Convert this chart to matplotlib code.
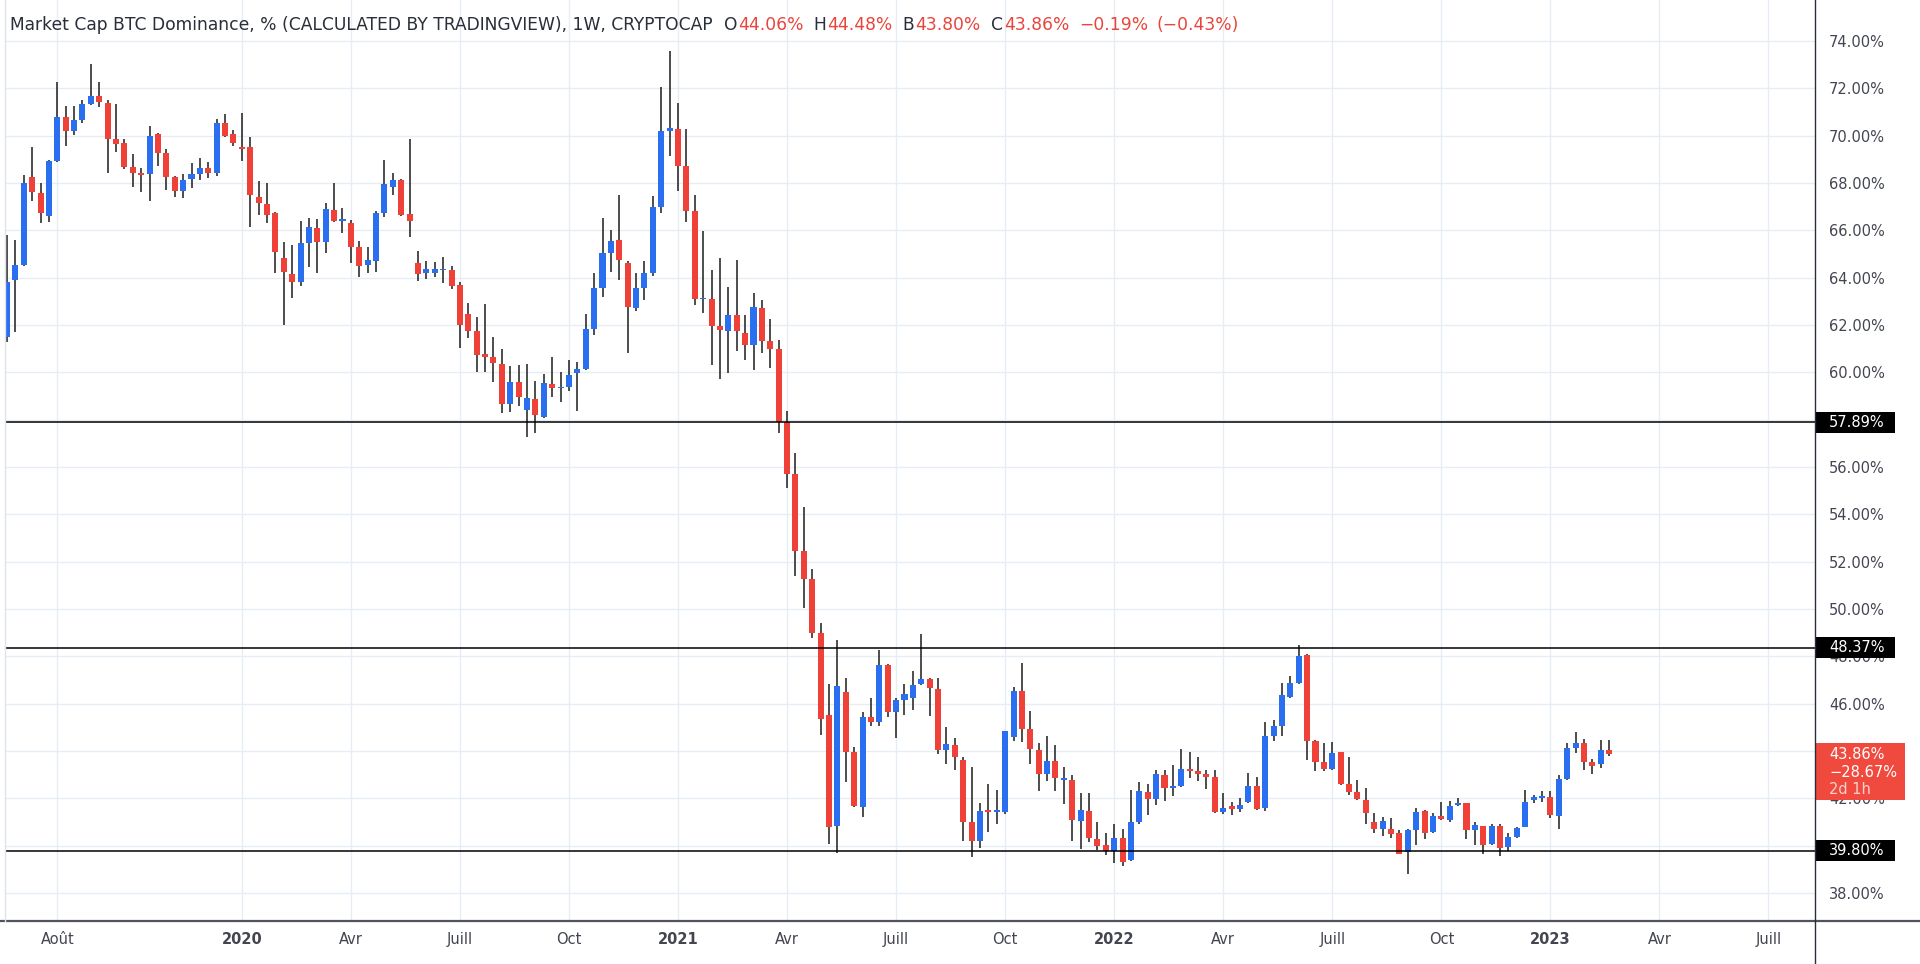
import math

import matplotlib

matplotlib.use("Agg")  # headless
import matplotlib.pyplot as plt
import numpy as np
import pandas as pd
from matplotlib import transforms
from matplotlib.lines import Line2D
from matplotlib.patches import Rectangle

W, H = 1920, 964

# --- weekly candles, BTC dominance (%) -----------------------------------
first_bar = "2019-06-24"

opens = [
    61.51, 63.90, 64.54, 68.24, 67.56, 66.61, 68.94, 70.80, 70.21, 70.66,
    71.34, 71.68, 71.37, 69.86, 69.68, 68.69, 68.44, 68.38, 70.07, 69.25,
    68.27, 67.68, 68.17, 68.37, 68.65, 68.44, 70.55, 70.07, 69.50, 69.51,
    67.39, 67.11, 66.75, 64.82, 64.14, 63.83, 65.48, 66.08, 65.52, 66.86,
    66.41, 66.32, 65.28, 64.54, 64.72, 66.75, 67.82, 68.13, 66.69, 64.63,
    64.21, 64.21, 64.31, 64.32, 63.69, 62.45, 61.76, 60.76, 60.66, 60.35,
    58.66, 59.61, 58.41, 58.86, 58.13, 59.51, 59.33, 59.37, 59.98, 60.14,
    61.82, 63.55, 65.06, 65.60, 64.63, 62.74, 63.55, 64.21, 67.00, 70.21,
    70.27, 68.72, 66.83, 63.08, 63.08, 61.95, 61.74, 62.42, 61.67, 61.14,
    62.74, 61.33, 61.00, 57.89, 55.71, 52.44, 51.26, 49.00, 45.52, 40.84,
    46.51, 43.96, 41.62, 45.44, 45.22, 47.64, 45.66, 46.15, 46.26, 46.85,
    47.03, 46.63, 44.03, 44.25, 43.62, 40.99, 40.19, 41.45, 41.43, 41.41,
    44.58, 46.53, 44.95, 44.06, 43.02, 43.59, 42.80, 42.78, 41.04, 41.47,
    40.28, 40.02, 39.77, 40.31, 39.39, 41.02, 42.26, 41.98, 42.99, 42.43,
    42.54, 43.25, 43.14, 43.02, 42.92, 41.41, 41.67, 41.55, 41.86, 42.54,
    41.58, 44.62, 45.05, 46.30, 46.89, 48.06, 44.44, 43.53, 43.24, 43.96,
    42.60, 42.26, 41.93, 40.99, 40.73, 40.69, 40.52, 39.74, 40.66, 41.47,
    40.59, 41.27, 41.09, 41.72, 41.79, 40.66, 40.84, 40.09, 40.84, 39.95,
    40.38, 40.81, 41.94, 42.01, 42.05, 41.24, 42.81, 44.12, 44.36, 43.53,
    43.45, 44.06,
]
highs = [
    65.80, 65.59, 68.34, 69.51, 67.99, 68.96, 72.28, 71.27, 71.27, 71.51,
    73.03, 72.28, 71.51, 71.34, 69.85, 69.21, 68.62, 70.41, 70.10, 69.42,
    68.30, 68.38, 68.86, 69.04, 68.90, 70.69, 70.92, 70.24, 70.94, 69.96,
    68.10, 68.01, 66.79, 65.52, 65.38, 66.41, 66.51, 66.48, 67.17, 68.01,
    66.93, 66.44, 65.55, 65.31, 66.83, 68.97, 68.44, 68.16, 69.85, 65.14,
    64.70, 64.66, 64.89, 64.48, 63.83, 62.94, 62.35, 62.89, 61.48, 61.00,
    60.28, 60.31, 60.34, 59.65, 59.94, 60.66, 60.03, 60.52, 60.45, 62.47,
    64.19, 66.51, 66.02, 67.49, 64.72, 64.19, 64.72, 67.45, 72.04, 73.59,
    71.37, 70.27, 67.49, 65.99, 64.33, 64.85, 63.60, 64.75, 62.42, 63.34,
    63.06, 62.24, 61.36, 58.38, 56.60, 54.30, 51.70, 49.42, 46.85, 48.71,
    47.07, 44.18, 45.66, 46.26, 48.26, 47.67, 46.26, 46.85, 47.40, 48.93,
    47.07, 47.10, 45.03, 44.55, 43.73, 43.31, 41.79, 42.60, 42.36, 44.86,
    46.70, 47.71, 45.71, 44.34, 44.62, 44.24, 43.31, 42.97, 42.22, 42.22,
    40.99, 40.52, 40.94, 40.73, 42.36, 42.68, 42.60, 43.21, 43.21, 43.42,
    44.08, 43.98, 43.77, 43.21, 43.21, 42.22, 41.86, 42.00, 43.07, 42.92,
    45.23, 45.33, 46.89, 47.17, 48.48, 48.10, 44.46, 44.34, 44.38, 43.98,
    43.73, 42.78, 42.46, 41.37, 41.23, 41.18, 40.66, 40.69, 41.58, 41.50,
    41.37, 41.86, 41.89, 42.03, 41.80, 40.99, 40.85, 40.90, 40.90, 40.56,
    40.80, 42.36, 42.15, 42.32, 42.32, 43.00, 44.34, 44.80, 44.52, 43.67,
    44.48, 44.48,
]
lows = [
    61.30, 61.72, 64.50, 67.25, 66.30, 66.37, 68.90, 69.56, 70.03, 70.52,
    71.30, 71.23, 68.41, 69.32, 68.60, 67.85, 67.63, 67.25, 68.72, 67.70,
    67.42, 67.35, 67.80, 68.13, 68.20, 68.30, 69.93, 69.56, 68.94, 66.13,
    66.65, 66.30, 64.18, 62.00, 63.13, 63.65, 64.46, 64.18, 65.03, 66.37,
    65.90, 64.61, 64.04, 64.18, 64.25, 66.55, 67.49, 66.60, 65.73, 63.87,
    63.93, 64.03, 63.79, 63.51, 61.02, 61.44, 60.03, 60.03, 59.61, 58.27,
    58.34, 58.59, 57.26, 57.43, 58.06, 58.97, 58.76, 59.23, 58.38, 60.10,
    61.58, 63.20, 64.26, 63.90, 60.83, 62.60, 63.06, 64.07, 66.75, 69.14,
    67.68, 66.37, 62.85, 62.49, 60.30, 59.74, 59.98, 60.92, 60.52, 60.09,
    60.80, 60.17, 57.43, 55.12, 51.38, 50.04, 48.78, 44.67, 40.07, 39.69,
    42.70, 41.65, 41.21, 45.07, 45.07, 45.44, 44.55, 45.51, 45.74, 46.80,
    45.47, 43.88, 43.44, 43.19, 40.22, 39.53, 39.91, 40.59, 40.94, 41.33,
    44.44, 44.38, 43.45, 42.32, 42.74, 42.32, 41.75, 40.19, 39.88, 40.14,
    39.81, 39.60, 39.29, 39.15, 39.35, 40.94, 41.30, 41.72, 41.89, 42.12,
    42.50, 42.85, 42.74, 42.40, 41.38, 41.36, 41.30, 41.41, 41.80, 41.51,
    41.47, 44.41, 44.62, 46.25, 46.85, 43.63, 43.16, 43.14, 43.21, 42.57,
    42.15, 41.95, 40.94, 40.56, 40.42, 40.31, 39.64, 38.82, 40.02, 40.28,
    40.56, 41.10, 40.99, 41.69, 40.28, 40.02, 39.67, 40.05, 39.57, 39.77,
    40.33, 40.80, 41.80, 41.87, 41.19, 40.72, 42.80, 43.91, 43.21, 43.03,
    43.28, 43.80,
]
closes = [
    63.83, 64.54, 67.99, 67.63, 66.75, 68.94, 70.77, 70.21, 70.66, 71.34,
    71.68, 71.41, 69.85, 69.65, 68.69, 68.44, 68.35, 69.99, 69.25, 68.27,
    67.68, 68.13, 68.37, 68.62, 68.44, 70.55, 69.99, 69.70, 69.45, 67.48,
    67.17, 66.65, 65.10, 64.23, 63.83, 65.48, 66.13, 65.52, 66.89, 66.41,
    66.44, 65.31, 64.49, 64.75, 66.75, 67.96, 68.13, 66.65, 66.41, 64.17,
    64.35, 64.35, 64.33, 63.65, 62.00, 61.76, 60.73, 60.66, 60.38, 58.66,
    59.61, 58.94, 58.90, 58.20, 59.54, 59.33, 59.38, 59.90, 60.13, 61.82,
    63.55, 65.06, 65.56, 64.75, 62.77, 63.55, 64.21, 67.00, 70.21, 70.31,
    68.72, 66.82, 63.09, 63.14, 61.95, 61.77, 62.42, 61.74, 61.14, 62.77,
    61.33, 61.00, 57.92, 55.71, 52.44, 51.26, 49.00, 45.37, 40.81, 46.75,
    43.96, 41.70, 45.44, 45.22, 47.64, 45.66, 46.15, 46.41, 46.81, 47.03,
    46.66, 44.03, 44.28, 43.73, 40.99, 40.19, 41.47, 41.43, 41.45, 44.83,
    46.53, 44.93, 44.10, 43.02, 43.59, 42.85, 42.82, 41.09, 41.51, 40.31,
    39.99, 39.77, 40.31, 39.32, 41.02, 42.32, 41.98, 43.02, 42.46, 42.54,
    43.25, 43.14, 43.02, 42.92, 41.41, 41.61, 41.55, 41.72, 42.54, 41.55,
    44.62, 45.05, 46.36, 46.89, 48.02, 44.44, 43.53, 43.24, 43.91, 42.60,
    42.26, 41.98, 41.37, 40.70, 41.04, 40.48, 39.67, 40.66, 41.44, 40.52,
    41.27, 41.13, 41.69, 41.79, 40.66, 40.87, 40.02, 40.84, 39.91, 40.38,
    40.76, 41.87, 42.04, 42.11, 41.28, 42.81, 44.12, 44.36, 43.53, 43.39,
    44.03, 43.86,
]

levels = [57.89, 48.37, 39.80]
tick_dates = ["2019-08-01", "2020-01-01", "2020-04-01", "2020-07-01", "2020-10-01",
              "2021-01-01", "2021-04-01", "2021-07-01", "2021-10-01", "2022-01-01",
              "2022-04-01", "2022-07-01", "2022-10-01", "2023-01-01", "2023-04-01",
              "2023-07-01"]
tick_labels = ["Août", "2020", "Avr", "Juill", "Oct", "2021", "Avr", "Juill", "Oct",
               "2022", "Avr", "Juill", "Oct", "2023", "Avr", "Juill"]
y_ticks = list(range(38, 75, 2))

UP, DOWN = "#2a6ff0", "#ef4137"
GRID = "#e6edf5"
TEXT = "#2a2e39"
AXIS_TEXT = "#434651"


def main():
    fig = plt.figure(figsize=(W / 100, H / 100), dpi=100)
    fig.patch.set_facecolor("white")
    ax = fig.add_axes([5 / W, 43 / H, (1815 - 5) / W, 921 / H])

    o = np.array(opens)
    c = np.array(closes)
    hi = np.maximum(np.array(highs), np.maximum(o, c))
    lo = np.minimum(np.array(lows), np.minimum(o, c))
    x = np.arange(len(o))
    colors = np.where(c >= o, UP, DOWN)

    # wicks, then bodies
    ax.vlines(x, lo, hi, color="#1c1c1c", lw=1.1, zorder=3)
    body_lo = np.minimum(o, c)
    body_h = np.maximum(np.abs(c - o), 0.07)
    ax.bar(x, body_h, bottom=body_lo, width=0.72, color=colors, lw=0, zorder=4)

    for lvl in levels:
        ax.axhline(lvl, color="black", lw=1.1, zorder=5)

    # time axis: one gridline at the first bar of each labelled month
    start = pd.Timestamp(first_bar)
    tick_idx = [math.ceil((pd.Timestamp(d) - start).days / 7) for d in tick_dates]
    ax.set_xticks(tick_idx)
    ax.set_xticklabels(tick_labels)
    for lab in ax.get_xticklabels():
        if lab.get_text().isdigit():
            lab.set_fontweight("bold")
            lab.set_color("#131722")
    ax.tick_params(axis="x", length=0, pad=8, labelsize=10.5, labelcolor=AXIS_TEXT)

    ax.yaxis.tick_right()
    ax.set_yticks(y_ticks)
    ax.set_yticklabels([f"{v:.2f}%" for v in y_ticks])
    ax.tick_params(axis="y", length=0, pad=10, labelsize=10.5, labelcolor=AXIS_TEXT)

    ax.grid(True, color=GRID, lw=1.0)
    ax.set_axisbelow(True)
    for s in ax.spines.values():
        s.set_visible(False)

    # level tags and last-price tag on the price scale (drawn over tick labels)
    blend = transforms.blended_transform_factory(fig.transFigure, ax.transData)
    for lvl in levels:
        ax.add_patch(Rectangle((1816 / W, lvl - 0.43), 79 / W, 0.87, transform=blend,
                               facecolor="black", lw=0, clip_on=False, zorder=6))
        ax.text(1829 / W, lvl, f"{lvl:.2f}%", transform=blend, color="white",
                fontsize=10.5, va="center", ha="left", zorder=7, clip_on=False)
    last = closes[-1]
    ax.add_patch(Rectangle((1816 / W, 41.93), 89 / W, 2.42, transform=blend,
                           facecolor="#f04a3e", lw=0, clip_on=False, zorder=6))
    tag_lines = [(f"{last:.2f}%", 43.86, 1.0), ("\u221228.67%", 43.09, 1.0),
                 ("2d 1h", 42.36, 0.75)]
    for txt, yy, alpha in tag_lines:
        ax.text(1829 / W, yy, txt, transform=blend, color="white", alpha=alpha,
                fontsize=10.5, va="center", ha="left", zorder=7, clip_on=False)

    ax.set_xlim((5 - 6.97) / 8.388, (1815 - 6.97) / 8.388)
    ax.set_ylim(74 - 880 / 23.67, 74 + 41 / 23.67)

    # frame lines of the chart pane
    fig.add_artist(Line2D([0, 1], [43 / H, 43 / H], color="#50535e", lw=1.6))
    fig.add_artist(Line2D([1815 / W, 1815 / W], [0, 1], color="#2a2e39", lw=1.0))
    fig.add_artist(Line2D([5 / W, 5 / W], [43 / H, 1], color="#e0e3eb", lw=1.0))

    # header legend: title then OHLC values in red
    red = "#e8453c"
    parts = [
        ("Market Cap BTC Dominance, % (CALCULATED BY TRADINGVIEW), 1W, CRYPTOCAP", TEXT, 11),
        ("O", TEXT, 1), ("44.06%", red, 10),
        ("H", TEXT, 1), ("44.48%", red, 10),
        ("B", TEXT, 1), ("43.80%", red, 10),
        ("C", TEXT, 1), ("43.86%", red, 10),
        ("\u22120.19%", red, 8), ("(\u22120.43%)", red, 0),
    ]
    renderer = fig.canvas.get_renderer()
    xpos = 10
    for txt, col, gap in parts:
        t = fig.text(xpos / W, 1 - 24.5 / H, txt, color=col, fontsize=12.3,
                     va="center", ha="left")
        xpos = t.get_window_extent(renderer).x1 + gap

    fig.savefig("out.png", dpi=100, facecolor="white")
    plt.close(fig)


if __name__ == "__main__":
    main()
